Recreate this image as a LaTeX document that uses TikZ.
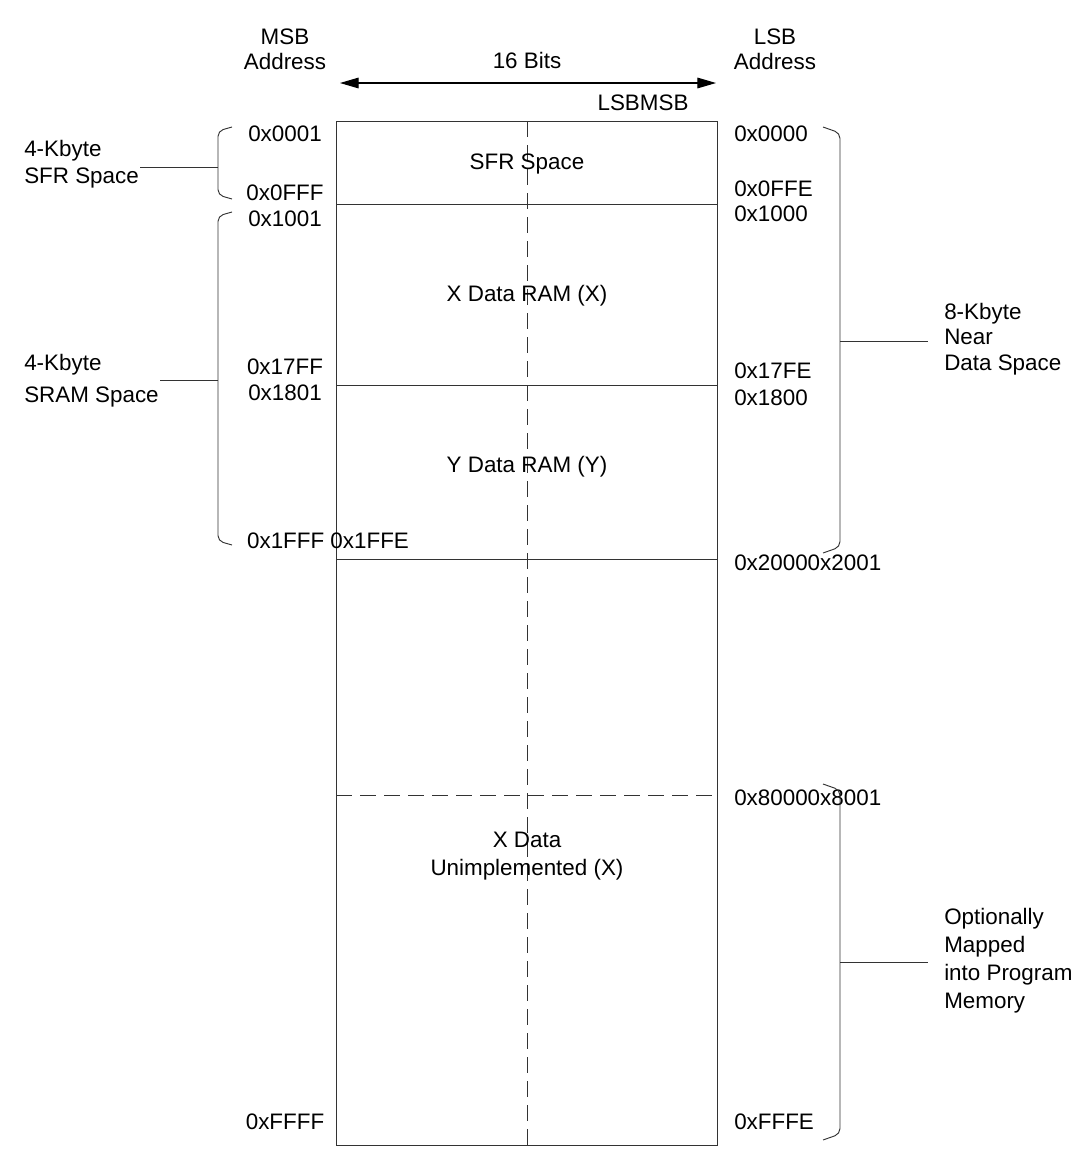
\documentclass[tikz,border=0pt]{standalone}
\usepackage{fontspec}
\setmainfont{Liberation Sans}
\usetikzlibrary{arrows.meta}
\begin{document}
\begin{tikzpicture}[x=0.75pt,y=-0.75pt,
  lbl/.style={inner sep=0pt,font=\fontsize{16.8}{19}\selectfont},
  ln/.style={line width=0.7pt,draw=black!80},
  br/.style={line width=0.7pt,draw=black!80,rounded corners=4pt}]
\useasboundingbox (0,0) rectangle (1084,1154);
% main box
\draw[ln] (336,121) rectangle (717,1145);
\coordinate (L1) at (336,204); \coordinate (R1) at (717,204);
\coordinate (L2) at (336,385); \coordinate (R2) at (717,385);
\coordinate (L3) at (336,559); \coordinate (R3) at (717,559);
\coordinate (L4) at (336,795); \coordinate (R4) at (717,795);
\coordinate (T) at (527,121); \coordinate (B) at (527,1145);
\draw[ln] (L1)--(R1); \draw[ln] (L2)--(R2); \draw[ln] (L3)--(R3);
\draw[ln,dash pattern=on 12pt off 6pt] (L4)--(R4);
\draw[ln,dash pattern=on 12pt off 6pt] (T)--(B);
% arrow
\coordinate (A1) at (340,83); \coordinate (A2) at (716,83);
\draw[line width=0.8pt,{Triangle[length=14pt,width=8pt]}-{Triangle[length=14pt,width=8pt]}] (A1)--(A2);
\node[lbl] (bits) at (527,60) {16 Bits};
\node[lbl] (lm) at (643,103) {LSBMSB};
\node[lbl,align=center,font=\fontsize{16.8}{19}\selectfont] (msb) at (285,49) {MSB\\Address};
\node[lbl,align=center,font=\fontsize{16.8}{19}\selectfont] (lsb) at (775,49) {LSB\\Address};
% region labels
\node[lbl] (sfr) at (527,164) {SFR Space};
\node[lbl] (xram) at (527,296) {X Data RAM (X)};
\node[lbl] (yram) at (527,467) {Y Data RAM (Y)};
\node[lbl,align=center,font=\fontsize{16.8}{21}\selectfont] (xun) at (527,856) {X Data\\Unimplemented (X)};
% left addresses
\node[lbl] (a1) at (285,134) {0x0001};
\node[lbl] (a2) at (285,193) {0x0FFF};
\node[lbl] (a3) at (285,219) {0x1001};
\node[lbl] (a4) at (285,367) {0x17FF};
\node[lbl] (a5) at (285,393) {0x1801};
\node[lbl] (a6) at (328,541) {0x1FFF 0x1FFE};
\node[lbl] (a7) at (285,1122) {0xFFFF};
% right addresses
\node[lbl,anchor=west] (b1) at (734,134) {0x0000};
\node[lbl,anchor=west] (b2) at (734,189) {0x0FFE};
\node[lbl,anchor=west] (b3) at (734,214) {0x1000};
\node[lbl,anchor=west] (b4) at (734,371) {0x17FE};
\node[lbl,anchor=west] (b5) at (734,398) {0x1800};
\node[lbl,anchor=west] (b6) at (734,563) {0x20000x2001};
\node[lbl,anchor=west] (b7) at (734,798) {0x80000x8001};
\node[lbl,anchor=west] (b8) at (734,1122) {0xFFFE};
% left brackets
\draw[br] (232,127)--(218,131)--(218,195)--(232,199);
\coordinate (s1) at (218,167); \coordinate (s1e) at (140,167);
\draw[ln] (s1)--(s1e);
\node[lbl,anchor=west,align=left,font=\fontsize{16.8}{20}\selectfont] (sfrl) at (24,164) {4-Kbyte\\SFR Space};
\draw[br] (232,212)--(218,216)--(218,541)--(232,545);
\coordinate (s2) at (218,380); \coordinate (s2e) at (160,380);
\draw[ln] (s2)--(s2e);
\node[lbl,anchor=west,align=left,font=\fontsize{16.8}{24}\selectfont] (sraml) at (24,381) {4-Kbyte\\SRAM Space};
% right brackets
\draw[br] (823,127)--(840,133)--(840,547)--(823,553);
\coordinate (r1) at (840,341); \coordinate (r1e) at (928,341);
\draw[ln] (r1)--(r1e);
\node[lbl,anchor=west,align=left,font=\fontsize{16.8}{19}\selectfont] (nearl) at (944,339) {8-Kbyte\\Near\\Data Space};
\draw[br] (823,784)--(840,790)--(840,1134)--(823,1140);
\coordinate (r2) at (840,962); \coordinate (r2e) at (928,962);
\draw[ln] (r2)--(r2e);
\node[lbl,anchor=west,align=left,font=\fontsize{16.8}{21}\selectfont] (optl) at (944,961) {Optionally\\Mapped\\into Program\\Memory};
\end{tikzpicture}
\end{document}
